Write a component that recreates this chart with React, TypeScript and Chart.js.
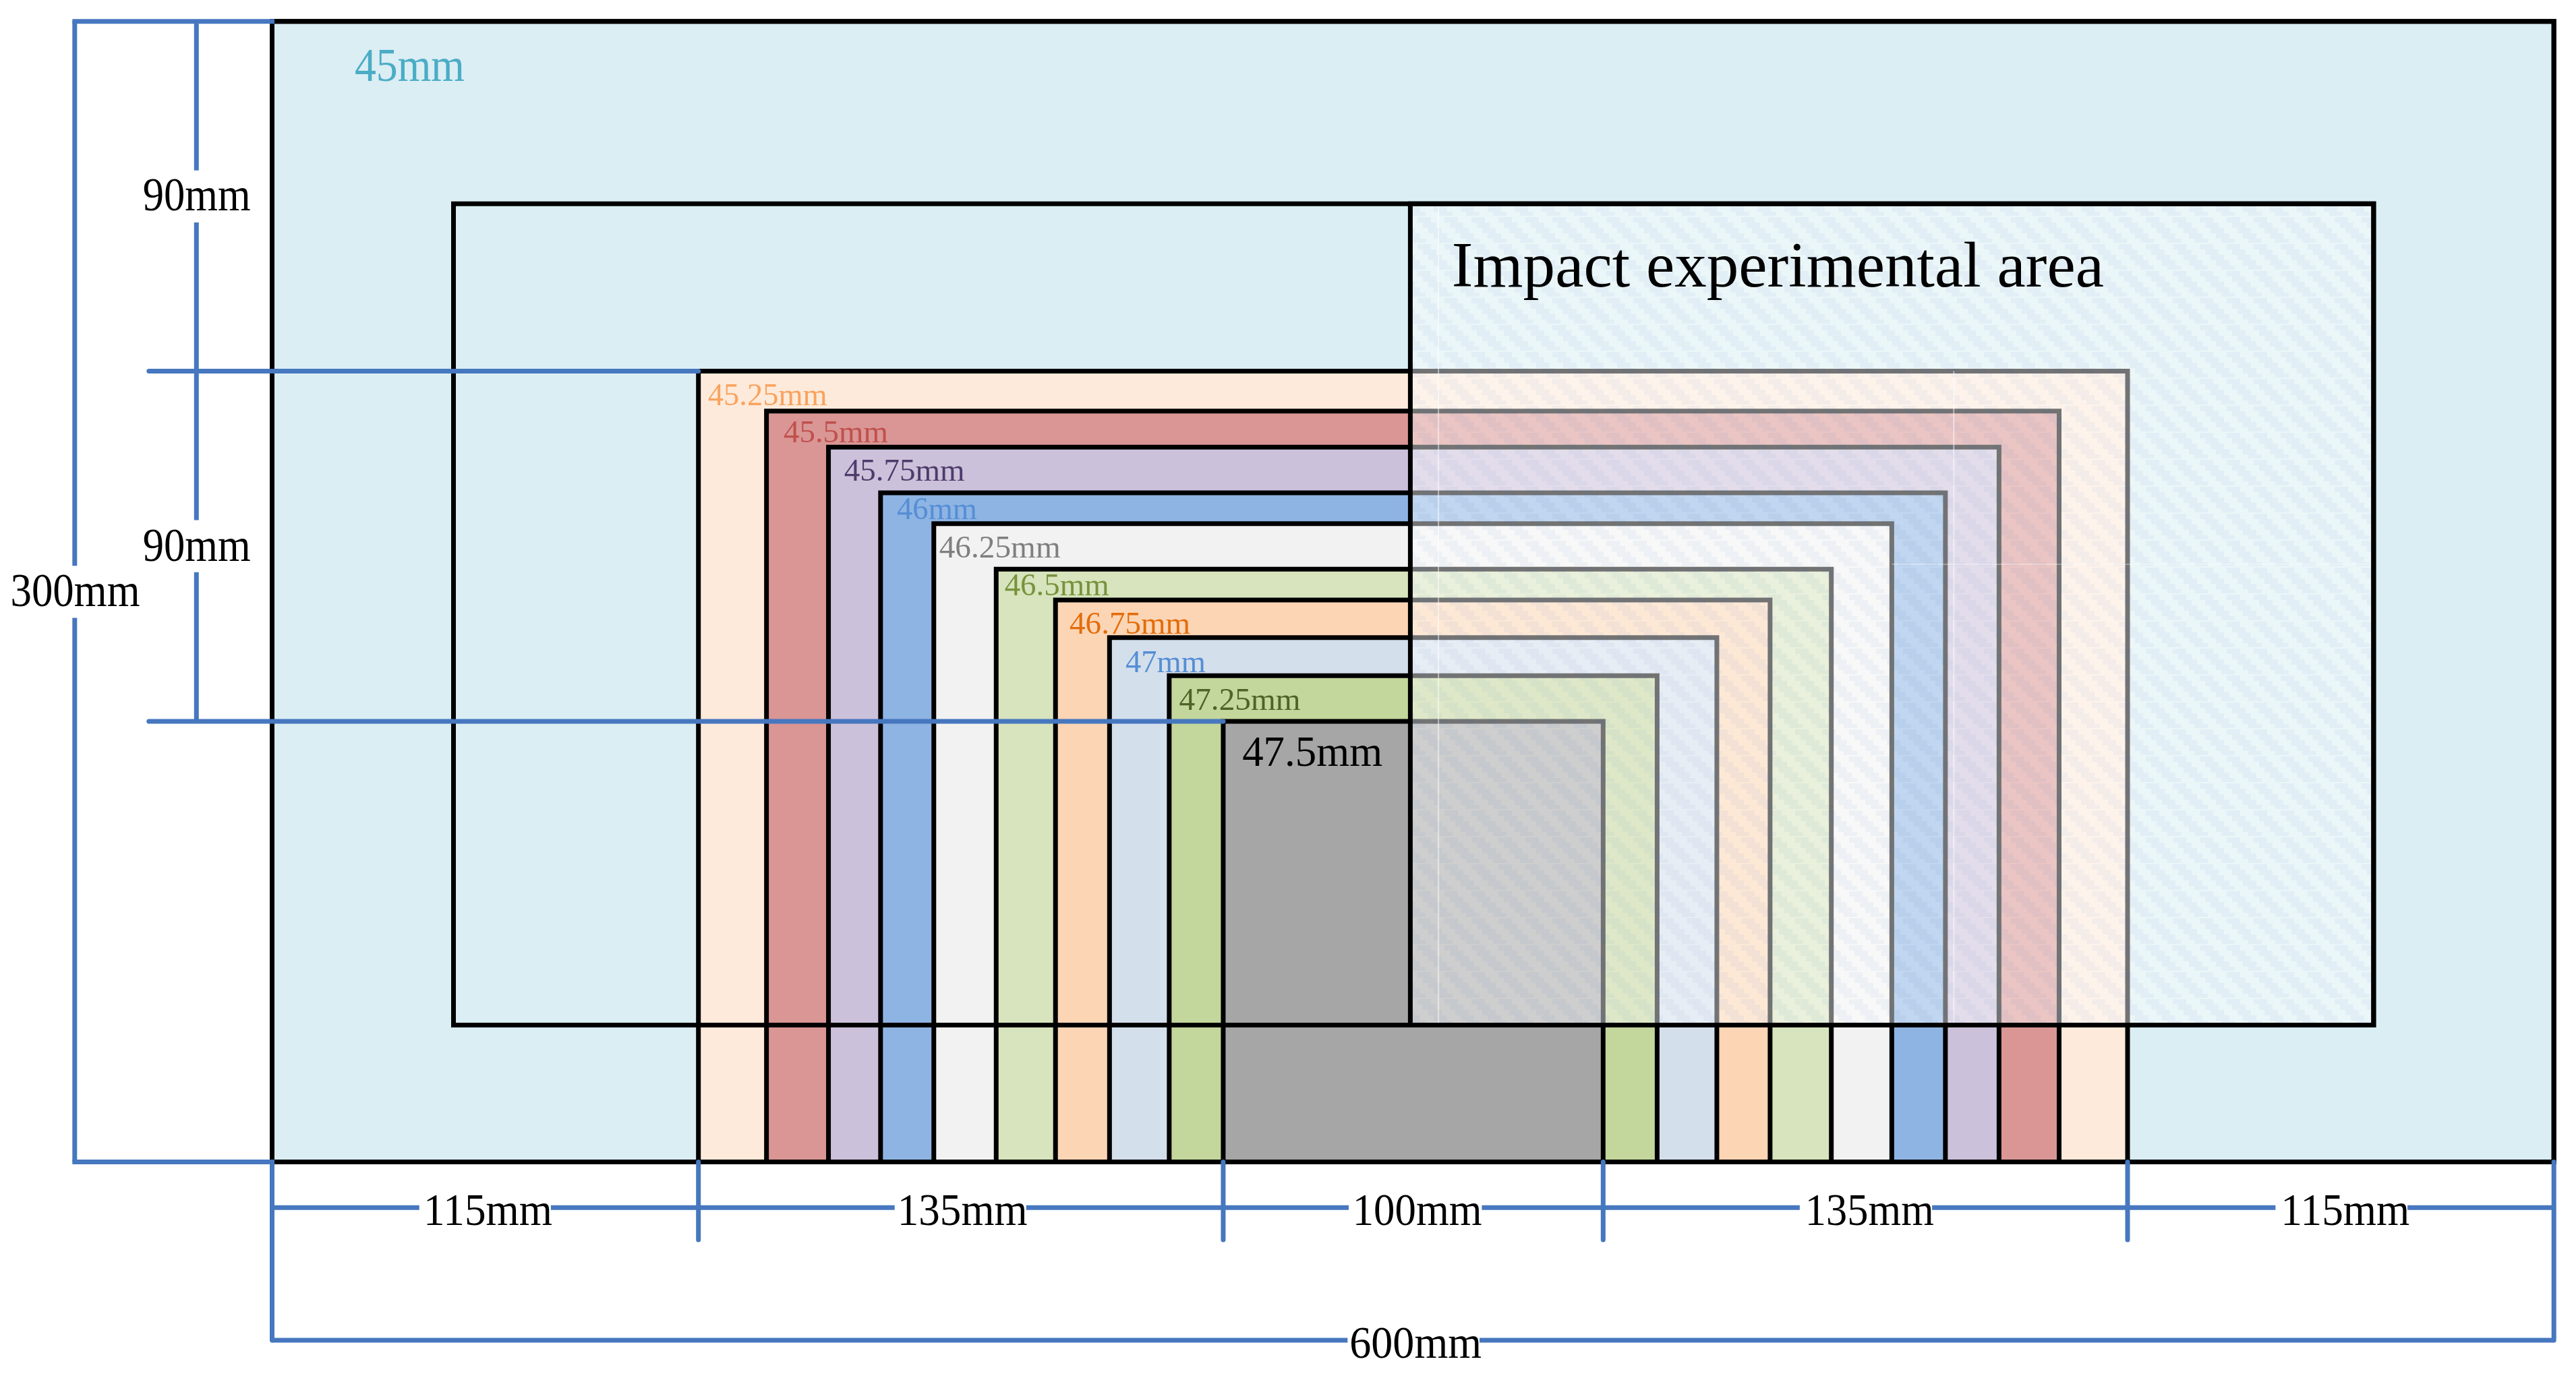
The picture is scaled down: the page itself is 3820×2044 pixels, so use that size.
import React, { useEffect, useRef } from "react";
import { Chart, registerables } from "chart.js";

Chart.register(...registerables);

// ---- values, in mm on the drawing's own axes ----
const plateSize = { x: [0, 600], y: [0, 300] };
const impactX = [47.7, 552.6];
const impactY = [36, 252];
const impactSplitX = 299.3;

const thicknessNames = ["45.25mm", "45.5mm", "45.75mm", "46mm", "46.25mm", "46.5mm", "46.75mm", "47mm", "47.25mm", "47.5mm"];
const zoneLeft = [112.1, 130, 146.3, 160, 174, 190.4, 206, 220.2, 235.9, 250.1];
const zoneRight = [487.9, 469.9, 454.1, 440, 425.9, 410, 393.9, 379.9, 364.2, 350];
const zoneTop = [208, 197.5, 188, 176, 167.9, 155.9, 147.8, 137.9, 127.9, 115.9];

const dimTicksX = [0, 112.1, 250.1, 350, 487.9, 600];
const dimRowY = -12;
const dimRowBreaks = [[0, 38.7], [73.3, 163.7], [198.3, 283.1], [318.1, 401.7], [436.5, 526.8], [561.5, 600]];
const dimRowLabels = ["115mm", "135mm", "100mm", "135mm", "115mm"];
const totalRowY = -46.9;
const totalRowBreaks = [[0, 282.8], [317.5, 600]];
const leftOuterX = -51.9;
const leftOuterBreaks = [[300, 156.8], [143.1, 0]];
const leftInnerX = -19.9;
const leftInnerBreaks = [[300, 260.8], [247.1, 168.8], [155.1, 115.9]];
const leftGuideStartX = -32.4;

// ---- styles and layout, kept apart from the values ----
const zoneFill = ["#FDEADA", "#D99694", "#CCC1DA", "#8EB4E3", "#F2F2F2", "#D7E4BD", "#FCD5B5", "#D4DFEC", "#C3D69B", "#A6A6A6"];
const zoneText = ["#F9A35E", "#C0504D", "#4E3B6C", "#558ED5", "#7F7F7F", "#77933C", "#E46C0A", "#558ED5", "#4F6228", "#000000"];
const zoneLabelX = [114.6, 134.5, 150.4, 164.3, 175.4, 192.6, 209.7, 224.4, 238.5, 255.1];
const zoneLabelY = [199.1, 189.3, 179.1, 169.1, 159, 149, 139, 128.9, 118.9, 104.2];
const zoneLabelW = [177, 155, 179, 119, 180, 155, 179, 119, 180, 208];
const dimLabelX = [39.8, 164.4, 284.1, 403.1, 528.2];
const dimLabelW = [191, 193, 192, 191, 191];
const seamsX = [306.7, 442.2];
const seamsY = [[36, 252], [36, 208]];
const seamH = { y: 157.2, x: [425.9, 551.7] };

const BLUE = "#4677BF";
const BLACK = "#000000";
const FONT = "'Liberation Serif', 'Times New Roman', serif";
const W = 3820;
const H = 2044;
const PX_MM = 5.6395;
const OX = 403.5;
const OY = 1723.5;

type Lbl = { text: string; x: number; y: number; w: number; size: number; color: string };

const labels: Lbl[] = [
  { text: "45mm", x: 21.7, y: 284.3, w: 163, size: 70, color: "#4BACC6" },
  { text: "Impact experimental area", x: 310.2, y: 230.2, w: 967, size: 96, color: BLACK },
  { text: "300mm", x: -68.8, y: 146.2, w: 192, size: 70, color: BLACK },
  { text: "90mm", x: -34, y: 250.3, w: 160, size: 70, color: BLACK },
  { text: "90mm", x: -34, y: 158, w: 160, size: 70, color: BLACK },
  { text: "600mm", x: 283.3, y: -51.6, w: 196, size: 68, color: BLACK },
  ...thicknessNames.map((t, i) => ({
    text: t, x: zoneLabelX[i], y: zoneLabelY[i], w: zoneLabelW[i],
    size: i === 9 ? 64 : 47, color: zoneText[i],
  })),
  ...dimRowLabels.map((t, i) => ({
    text: t, x: dimLabelX[i], y: -16.5, w: dimLabelW[i], size: 68, color: BLACK,
  })),
];

function hatch(): CanvasPattern | string {
  const c = document.createElement("canvas");
  c.width = 40;
  c.height = 40;
  const g = c.getContext("2d")!;
  g.fillStyle = "rgba(255,255,255,0.45)";
  g.fillRect(0, 0, 40, 40);
  for (let k = 0; k < 5; k++) {
    const y = (10 + 8 * k) % 40;
    const x = (30 + 8 * k) % 40;
    for (const dx of [x, x - 40]) {
      g.clearRect(dx, y, 20, 8);
      g.fillStyle = "rgba(232,238,247,0.48)";
      g.fillRect(dx, y, 20, 8);
    }
  }
  return g.createPattern(c, "repeat") || "rgba(255,255,255,0.45)";
}

const rect = (x0: number, x1: number, y0: number, y1: number) => [
  { x: x0, y: y1 }, { x: x1, y: y1 }, { x: x1, y: y0 }, { x: x0, y: y0 }, { x: x0, y: y1 },
];

const box = (data: any, fillColor: any, lineW: number, line = BLACK) => ({
  data,
  showLine: true,
  pointRadius: 0,
  tension: 0,
  fill: fillColor ? "shape" : false,
  backgroundColor: fillColor || "transparent",
  borderColor: line,
  borderWidth: lineW,
  borderJoinStyle: "miter",
  borderCapStyle: "square",
  clip: false,
});

const seg = (x0: number, y0: number, x1: number, y1: number, w: number, color = BLUE, cap = "butt") => ({
  data: [{ x: x0, y: y0 }, { x: x1, y: y1 }],
  showLine: true,
  pointRadius: 0,
  tension: 0,
  fill: false,
  borderColor: color,
  borderWidth: w,
  borderCapStyle: cap,
  clip: false,
});

const textPlugin = {
  id: "mmLabels",
  afterDatasetsDraw(chart: any) {
    const { ctx, scales } = chart;
    for (const l of labels) {
      ctx.save();
      ctx.font = `${l.size}px ${FONT}`;
      ctx.textBaseline = "alphabetic";
      ctx.textAlign = "left";
      ctx.fillStyle = l.color;
      const natural = ctx.measureText(l.text).width;
      ctx.translate(scales.x.getPixelForValue(l.x), scales.y.getPixelForValue(l.y));
      ctx.scale(l.w / natural, 1);
      ctx.fillText(l.text, 0, 0);
      ctx.restore();
    }
  },
};

export default function App() {
  const ref = useRef<HTMLCanvasElement>(null);
  useEffect(() => {
    if (!ref.current) return;
    const sets: any[] = [];
    // painted back to front
    sets.push(box(rect(plateSize.x[0], plateSize.x[1], plateSize.y[0], plateSize.y[1]), "#DAEEF3", 7));
    thicknessNames.forEach((_, i) => {
      sets.push(box(rect(zoneLeft[i], zoneRight[i], 0, zoneTop[i]), zoneFill[i], 7));
    });
    sets.push(box(rect(impactSplitX, impactX[1], impactY[0], impactY[1]), hatch(), 7));
    seamsX.forEach((x, i) => sets.push(seg(x, seamsY[i][0], x, seamsY[i][1], 2, "rgba(255,255,255,0.5)")));
    sets.push(seg(seamH.x[0], seamH.y, seamH.x[1], seamH.y, 1.5, "rgba(255,255,255,0.4)"));
    sets.push(box(rect(impactX[0], impactX[1], impactY[0], impactY[1]), null, 7));
    sets.push(box(rect(plateSize.x[0], plateSize.x[1], plateSize.y[0], plateSize.y[1]), null, 7));

    // dimension lines
    leftOuterBreaks.forEach(([a, b]) => sets.push(seg(leftOuterX, a, leftOuterX, b, 7)));
    sets.push(seg(leftOuterX, 300, 0, 300, 7, BLUE, "square"));
    sets.push(seg(leftOuterX, 0, 0, 0, 7, BLUE, "square"));
    leftInnerBreaks.forEach(([a, b]) => sets.push(seg(leftInnerX, a, leftInnerX, b, 7)));
    sets.push(seg(leftGuideStartX, zoneTop[0], zoneLeft[0], zoneTop[0], 7, BLUE, "round"));
    sets.push(seg(leftGuideStartX, zoneTop[9], zoneLeft[9], zoneTop[9], 7, BLUE, "round"));
    dimTicksX.forEach((x, i) => {
      const end = i === 0 || i === dimTicksX.length - 1 ? totalRowY : -20.5;
      sets.push(seg(x, 0, x, end, 7, BLUE, "round"));
    });
    dimRowBreaks.forEach(([a, b]) => sets.push(seg(a, dimRowY, b, dimRowY, 7)));
    totalRowBreaks.forEach(([a, b]) => sets.push(seg(a, totalRowY, b, totalRowY, 7)));

    sets.forEach((s, i) => (s.order = sets.length - i));

    const chart = new Chart(ref.current, {
      type: "scatter",
      data: { datasets: sets },
      options: {
        animation: false,
        responsive: false,
        devicePixelRatio: 1,
        layout: { padding: 0 },
        plugins: { legend: { display: false }, tooltip: { enabled: false } },
        events: [],
        scales: {
          x: { type: "linear", display: false, min: -OX / PX_MM, max: (W - OX) / PX_MM },
          y: { type: "linear", display: false, min: (OY - H) / PX_MM, max: OY / PX_MM },
        },
      },
      plugins: [textPlugin],
    } as any);
    return () => chart.destroy();
  }, []);

  return (
    <div style={{ position: "absolute", left: 0, top: 0, width: W, height: H, background: "#fff" }}>
      <canvas ref={ref} width={W} height={H} style={{ display: "block", width: W, height: H }} />
    </div>
  );
}
